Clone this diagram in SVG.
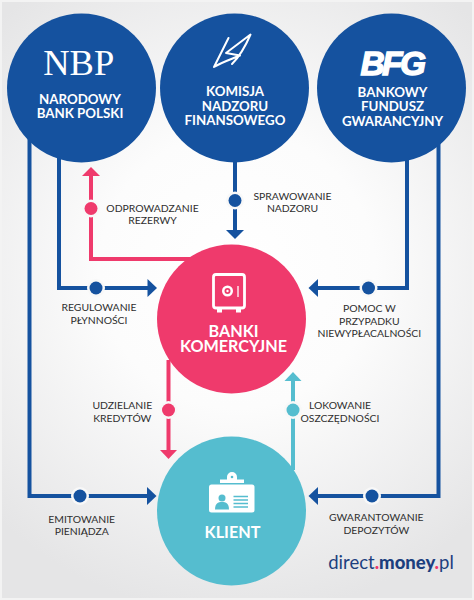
<svg xmlns="http://www.w3.org/2000/svg" width="474" height="600" viewBox="0 0 474 600">
<style>
.l{fill:none;stroke-width:4;stroke-linejoin:miter}
.b{stroke:#15529f}.p{stroke:#ef3a6c}.t{stroke:#55bdcf}
.fb{fill:#15529f}.fp{fill:#ef3a6c}.ft{fill:#55bdcf}
.gap{fill:#f8f8f8}
text{font-family:Lato,"Liberation Sans",sans-serif;text-anchor:middle}
.c{font-size:10.4px;fill:#2f2f2f}
.n{font-size:13.3px;font-weight:700;fill:#fff}
.big{font-size:16.200px;font-weight:700;fill:#fff}
</style>
<defs>
<radialGradient id="bg" gradientUnits="userSpaceOnUse" cx="237" cy="270" r="345">
<stop offset="0" stop-color="#ffffff"/><stop offset="0.4" stop-color="#fcfcfc"/><stop offset="1" stop-color="#e5e5e6"/>
</radialGradient>
</defs>
<rect width="474" height="600" fill="#f3f3f3"/>
<rect x="2" y="2" width="470" height="596" fill="url(#bg)"/>
<g id="connectors">
<path class="l b" d="M29.500 130V496H148"/><path class="fb" d="M147 487l9.500 9-9.500 9z"/>
<circle class="gap" cx="80" cy="496" r="9"/><circle class="fb" cx="80" cy="496" r="6.500"/>
<path class="l b" d="M59 150V288H148"/><path class="fb" d="M147.500 279l9.500 9-9.500 9z"/>
<circle class="gap" cx="96" cy="288" r="9"/><circle class="fb" cx="96" cy="288" r="6.500"/>
<path class="l p" d="M91 175V259H190"/><path class="fp" d="M82 176l9-9 9 9z"/>
<circle class="gap" cx="91" cy="208.500" r="9"/><circle class="fp" cx="91" cy="208.500" r="6.500"/>
<path class="l b" d="M235 150V231"/><path class="fb" d="M226 230l9 9 9-9z"/>
<circle class="gap" cx="235" cy="200.500" r="9"/><circle class="fb" cx="235" cy="200.500" r="6.500"/>
<path class="l b" d="M407 150V288H317"/><path class="fb" d="M318 279l-9.500 9 9.500 9z"/>
<circle class="gap" cx="368.500" cy="288" r="9"/><circle class="fb" cx="368.500" cy="288" r="6.500"/>
<path class="l b" d="M438.500 130V496H317"/><path class="fb" d="M318 487l-9.500 9 9.500 9z"/>
<circle class="gap" cx="372" cy="496" r="9"/><circle class="fb" cx="372" cy="496" r="6.500"/>
<path class="l p" d="M168.500 360V451"/><path class="fp" d="M160 450l8.500 9 8.500-9z"/>
<circle class="gap" cx="168.500" cy="410" r="9"/><circle class="fp" cx="168.500" cy="410" r="6.500"/>
<path class="l t" d="M293 470V380"/><path class="ft" d="M284.500 381l8.500-9 8.500 9z"/>
<circle class="gap" cx="293" cy="410" r="9"/><circle class="ft" cx="293" cy="410" r="6.500"/>
</g>
<g id="nbp"><circle class="fb" cx="81.500" cy="88" r="74.500"/>
<text x="78.700" y="75" style="font-family:'Liberation Serif',serif;font-size:36.500px" fill="#fff">NBP</text>
<text class="n" x="80" y="104">NARODOWY</text><text class="n" x="80" y="118">BANK POLSKI</text></g>
<g id="knf"><circle class="fb" cx="234.500" cy="88" r="74.500"/>
<path d="M228.500 38L214 67C222 62 232 59 240 55.500L226 53L250.500 34.500C246 45 241 55 232 64" fill="none" stroke="#fff" stroke-width="2" stroke-linejoin="round" stroke-linecap="round"/>
<text class="n" x="235" y="96">KOMISJA</text><text class="n" x="235" y="110.500">NADZORU</text><text class="n" x="235" y="125">FINANSOWEGO</text></g>
<g id="bfg"><circle class="fb" cx="391.500" cy="88" r="74.500"/>
<text x="392" y="74.500" style="font-family:'Liberation Sans',sans-serif;font-size:33.500px;font-weight:700;font-style:italic;letter-spacing:-2.500px" fill="#fff" stroke="#fff" stroke-width="1.400">BFG</text>
<text class="n" x="392.500" y="97">BANKOWY</text><text class="n" x="392.500" y="111">FUNDUSZ</text><text class="n" x="392.500" y="125.500">GWARANCYJNY</text></g>
<g id="banki"><circle class="fp" cx="231.500" cy="319" r="74.500"/>
<g id="safe-icon">
<rect x="213.500" y="274.500" width="31" height="33.500" rx="2.500" fill="#ef3a6c" stroke="#fff" stroke-width="2.800"/>
<rect x="217" y="309" width="5" height="3.500" fill="#fff"/><rect x="236" y="309" width="5" height="3.500" fill="#fff"/>
<circle cx="227.500" cy="291" r="5.500" fill="#fff"/><circle cx="227.500" cy="291" r="3" class="fp"/><circle cx="227.500" cy="291" r="1.200" fill="#fff"/>
<circle cx="217" cy="285" r="2" class="fp"/><circle cx="217" cy="300" r="2" class="fp"/>
<path d="M238 286V297" stroke="#fff" stroke-width="1.300"/>
</g>
<text class="big" x="233.500" y="337">BANKI</text><text class="big" x="233.500" y="352">KOMERCYJNE</text></g>
<g id="klient"><circle class="ft" cx="231.500" cy="511" r="74.500"/>
<g id="badge-icon">
<rect x="209" y="484.500" width="45.500" height="28" rx="2.500" fill="#fff"/>
<path d="M220 483V479.500H227V477A5 5 0 0 1 237 477V479.500H244V483Z" fill="#fff"/>
<circle cx="232" cy="477" r="1.300" class="ft"/>
<circle cx="222" cy="498" r="3.500" class="ft"/><path d="M215 509.500c0-6 3-7.500 7-7.500s7 1.500 7 7.500z" class="ft"/>
<path d="M233.500 496.500H248M233.500 500H248M233.500 503.500H248M233.500 507H248" stroke="#55bdcf" stroke-width="1.400"/>
</g>
<text class="big" x="232.500" y="538">KLIENT</text></g>
<g id="labels">
<text class="c" x="152.500" y="211.500">ODPROWADZANIE</text><text class="c" x="152.500" y="224">REZERWY</text>
<text class="c" x="292.500" y="199.500">SPRAWOWANIE</text><text class="c" x="292.500" y="212">NADZORU</text>
<text class="c" x="99" y="311">REGULOWANIE</text><text class="c" x="99" y="324">PŁYNNOŚCI</text>
<text class="c" x="369.300" y="312">POMOC W</text><text class="c" x="369.300" y="324.500">PRZYPADKU</text><text class="c" x="369.300" y="337">NIEWYPŁACALNOŚCI</text>
<text class="c" x="122.300" y="409">UDZIELANIE</text><text class="c" x="122.300" y="422">KREDYTÓW</text>
<text class="c" x="340" y="409">LOKOWANIE</text><text class="c" x="340" y="422">OSZCZĘDNOŚCI</text>
<text class="c" x="81.700" y="522.500">EMITOWANIE</text><text class="c" x="81.700" y="535">PIENIĄDZA</text>
<text class="c" x="376.300" y="521">GWARANTOWANIE</text><text class="c" x="376.300" y="534">DEPOZYTÓW</text>
</g>
<text id="brand" x="391" y="569" style="font-size:18.500px;fill:#1c3f7e"><tspan>direct</tspan><tspan fill="#ef3a6c" font-weight="900">.</tspan><tspan font-weight="900">money</tspan><tspan fill="#ef3a6c" font-weight="900">.</tspan><tspan>pl</tspan></text>
</svg>
